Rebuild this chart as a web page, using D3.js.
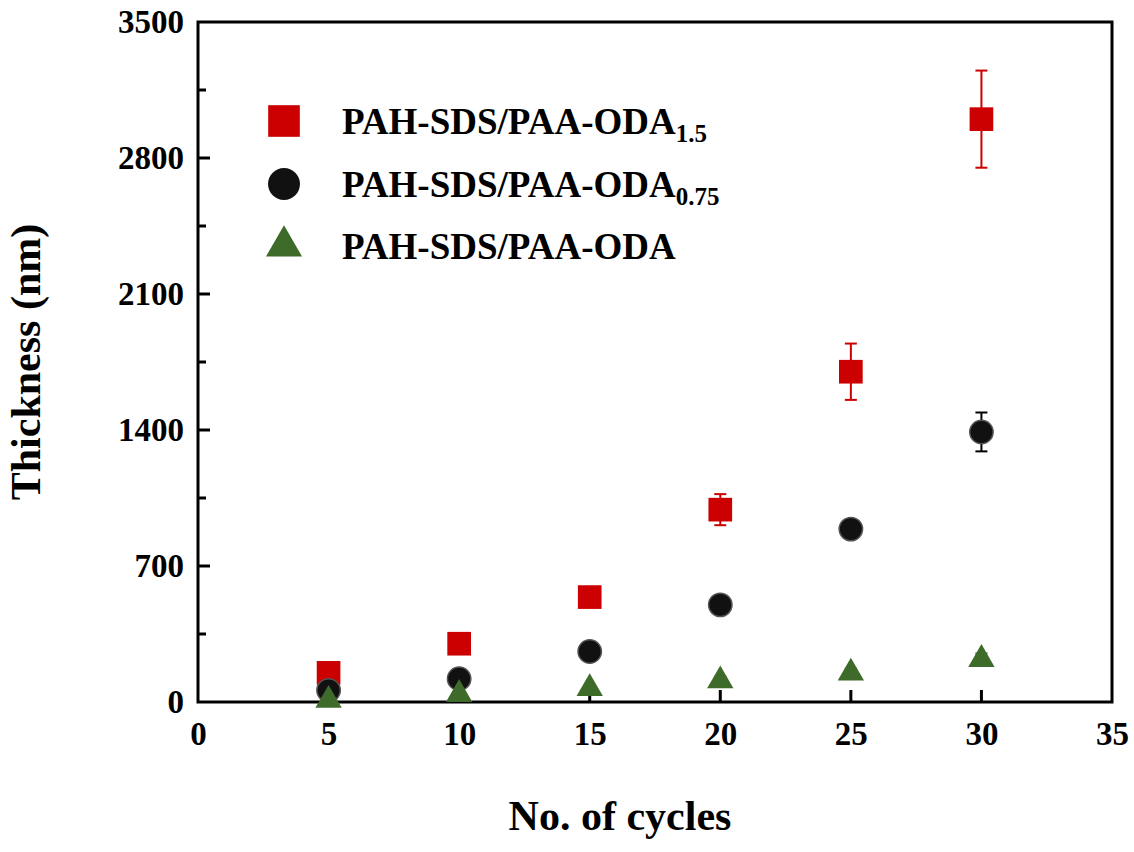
<!DOCTYPE html>
<html><head><meta charset="utf-8">
<script src="https://cdn.jsdelivr.net/npm/d3@7"></script>
<style>body{margin:0;background:#fff}</style></head>
<body><svg id="c" width="1134" height="852"></svg>
<script>
const cycles = [5, 10, 15, 20, 25, 30];
const red = [150, 300, 540, 990, 1700, 3000];
const redErr = [15, 20, 25, 80, 145, 250];
const black = [60, 120, 260, 500, 890, 1390];
const blackErr = [10, 10, 15, 20, 40, 100];
const green = [20, 50, 80, 120, 160, 230];
const greenErr = [5, 5, 8, 10, 12, 20];
const xTicks = [0, 5, 10, 15, 20, 25, 30, 35];
const yTicks = [0, 700, 1400, 2100, 2800, 3500];

const svg = d3.select('#c');
const font = '"Liberation Serif", "Times New Roman", serif';
const x = d3.scaleLinear().domain([0, 35]).range([198, 1112]);
const y = d3.scaleLinear().domain([0, 3500]).range([702, 22]);

svg.append('rect').attr('x', 198).attr('y', 22).attr('width', 914).attr('height', 680)
  .attr('fill', 'none').attr('stroke', '#000').attr('stroke-width', 3);

// y axis
const ya = svg.append('g').attr('transform', 'translate(198,0)')
  .call(d3.axisLeft(y).tickValues(yTicks).tickSize(0).tickPadding(14).tickFormat(d3.format('d')));
ya.select('.domain').remove();
ya.selectAll('text').attr('font-family', font).attr('font-weight', 'bold').attr('font-size', 33);
svg.append('g').selectAll('line').data(d3.range(350, 3500, 350)).join('line')
  .attr('x1', 198).attr('x2', d => (d % 700 === 0 ? 210 : 206))
  .attr('y1', d => y(d)).attr('y2', d => y(d)).attr('stroke', '#000').attr('stroke-width', 3);

// x axis
const xa = svg.append('g').attr('transform', 'translate(0,702)')
  .call(d3.axisBottom(x).tickValues(xTicks).tickSize(0).tickPadding(20));
xa.select('.domain').remove();
xa.selectAll('text').attr('font-family', font).attr('font-weight', 'bold').attr('font-size', 33);
svg.append('g').selectAll('line').data(xTicks.slice(1, -1)).join('line')
  .attr('x1', d => x(d)).attr('x2', d => x(d)).attr('y1', 702).attr('y2', 690)
  .attr('stroke', '#000').attr('stroke-width', 3);

svg.append('text').attr('x', 620).attr('y', 830).attr('text-anchor', 'middle')
  .attr('font-family', font).attr('font-weight', 'bold').attr('font-size', 42).text('No. of cycles');
svg.append('text').attr('transform', 'translate(40,362) rotate(-90)').attr('text-anchor', 'middle')
  .attr('font-family', font).attr('font-weight', 'bold').attr('font-size', 42).text('Thickness (nm)');

function errs(vals, e, color) {
  const g = svg.append('g').attr('stroke', color).attr('stroke-width', 2);
  cycles.forEach((c, i) => {
    g.append('line').attr('x1', x(c)).attr('x2', x(c)).attr('y1', y(vals[i] - e[i])).attr('y2', y(vals[i] + e[i]));
    [-1, 1].forEach(s => g.append('line').attr('x1', x(c) - 6).attr('x2', x(c) + 6)
      .attr('y1', y(vals[i] + s * e[i])).attr('y2', y(vals[i] + s * e[i])));
  });
}
errs(red, redErr, '#cc0000');
errs(black, blackErr, '#000');
errs(green, greenErr, '#375623');

const sq = d3.symbol(d3.symbolSquare, 560), ci = d3.symbol(d3.symbolCircle, 430), tr = d3.symbol(d3.symbolTriangle, 300);
svg.append('g').selectAll('path').data(cycles).join('path')
  .attr('d', sq).attr('transform', (d, i) => `translate(${x(d)},${y(red[i])})`).attr('fill', '#cc0000');
svg.append('g').selectAll('path').data(cycles).join('path')
  .attr('d', ci).attr('transform', (d, i) => `translate(${x(d)},${y(black[i])})`)
  .attr('fill', '#111').attr('stroke', '#555').attr('stroke-width', 1.5);
svg.append('g').selectAll('path').data(cycles).join('path')
  .attr('d', tr).attr('transform', (d, i) => `translate(${x(d)},${y(green[i]) + 2})`).attr('fill', '#3f6b2a');

// legend
const lsq = d3.symbol(d3.symbolSquare, 1000), lci = d3.symbol(d3.symbolCircle, 800), ltr = d3.symbol(d3.symbolTriangle, 560);
const leg = [
  { sym: lsq, fill: '#cc0000', name: 'PAH-SDS/PAA-ODA', sub: '1.5', ly: 121 },
  { sym: lci, fill: '#111', name: 'PAH-SDS/PAA-ODA', sub: '0.75', ly: 184 },
  { sym: ltr, fill: '#3f6b2a', name: 'PAH-SDS/PAA-ODA', sub: '', ly: 246 }
];
leg.forEach(l => {
  svg.append('path').attr('d', l.sym).attr('transform', `translate(284,${l.ly})`).attr('fill', l.fill);
  const t = svg.append('text').attr('x', 342).attr('y', l.ly + 13)
    .attr('font-family', font).attr('font-weight', 'bold').attr('font-size', 37).text(l.name);
  if (l.sub) t.append('tspan').attr('font-size', 25).attr('dy', 8).text(l.sub);
});
</script></body></html>
